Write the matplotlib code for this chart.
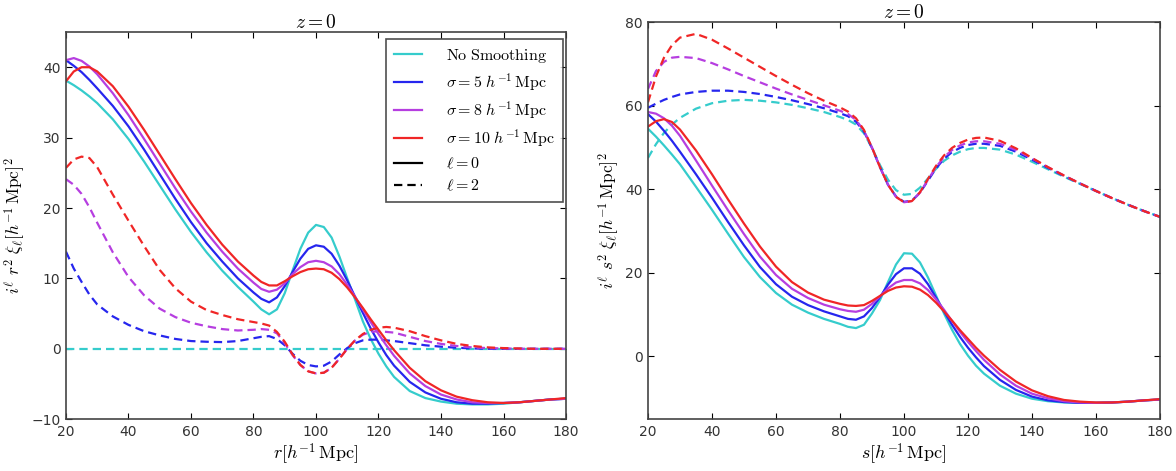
import numpy as np
import matplotlib
matplotlib.use('Agg')
import matplotlib.pyplot as plt
from matplotlib.lines import Line2D

plt.rcParams['mathtext.fontset'] = 'cm'
plt.rcParams['font.family'] = 'DejaVu Sans'
plt.rcParams['lines.scale_dashes'] = False

# separation grid (h^-1 Mpc)
sep = [20, 22.5, 25, 27.5, 30, 35, 40, 45, 50, 55, 60, 65, 70, 75, 80, 82.5, 85, 87.5,
       90, 92.5, 95, 97.5, 100, 102.5, 105, 107.5, 110, 112.5, 115, 117.5, 120, 122.5,
       125, 130, 135, 140, 145, 150, 155, 160, 165, 170, 175, 180]

# real space, monopole (l=0)
r_l0_none = [38.1, 37.45, 36.7, 35.85, 34.9, 32.6, 29.8, 26.6, 23.2, 19.8, 16.6, 13.7, 11.1, 8.8, 6.7, 5.6, 4.9, 5.6,
             7.9, 11.1, 14.2, 16.5, 17.6, 17.3, 15.8, 13.1, 10.0, 7.0, 3.9, 1.4, -0.7, -2.5,
             -4.0, -6.0, -7.0, -7.5, -7.8, -7.9, -7.9, -7.8, -7.6, -7.4, -7.2, -7.1]
r_l0_s5 = [41.0, 40.2, 39.3, 38.2, 37.0, 34.5, 31.6, 28.3, 24.8, 21.3, 18.0, 15.0, 12.4, 10.0, 8.0, 7.1, 6.6, 7.3,
           8.9, 10.9, 12.8, 14.2, 14.7, 14.5, 13.5, 11.8, 9.7, 7.4, 5.1, 2.9, 0.9, -0.9,
           -2.4, -4.7, -6.2, -7.1, -7.6, -7.8, -7.8, -7.7, -7.6, -7.4, -7.2, -7.1]
r_l0_s8 = [41.0, 41.3, 40.9, 40.1, 39.0, 36.3, 33.2, 29.8, 26.3, 22.8, 19.5, 16.5, 13.8, 11.4, 9.4, 8.5, 8.1, 8.4,
           9.3, 10.6, 11.6, 12.3, 12.5, 12.3, 11.7, 10.6, 9.1, 7.4, 5.6, 3.8, 2.1, 0.5,
           -1.0, -3.5, -5.3, -6.5, -7.2, -7.6, -7.7, -7.7, -7.6, -7.4, -7.2, -7.1]
r_l0_s10 = [38.0, 39.4, 40.0, 40.0, 39.4, 37.3, 34.4, 31.1, 27.6, 24.1, 20.7, 17.6, 14.8, 12.4, 10.4, 9.5, 9.0, 9.0,
            9.6, 10.3, 10.9, 11.3, 11.4, 11.3, 10.8, 9.9, 8.7, 7.3, 5.8, 4.2, 2.7, 1.2,
            -0.2, -2.7, -4.6, -5.9, -6.8, -7.3, -7.6, -7.7, -7.6, -7.4, -7.2, -7.0]

# real space, quadrupole (l=2)
r_l2_none = [0.0] * 44
r_l2_s5 = [13.8, 11.4, 9.5, 7.7, 6.3, 4.6, 3.4, 2.5, 1.9, 1.4, 1.1, 1.0, 0.95, 1.1, 1.5, 1.7, 1.8, 1.4,
           0.5, -0.7, -1.7, -2.3, -2.5, -2.4, -1.8, -0.8, 0.1, 0.8, 1.2, 1.3, 1.3, 1.2,
           1.1, 0.8, 0.5, 0.3, 0.15, 0.05, 0.0, 0.0, 0.0, 0.0, 0.0, 0.0]
r_l2_s8 = [24.1, 23.3, 22.0, 20.1, 17.9, 13.7, 10.2, 7.6, 5.7, 4.5, 3.7, 3.2, 2.8, 2.6, 2.7, 2.8, 2.7, 2.2,
           0.8, -0.9, -2.3, -3.2, -3.5, -3.4, -2.7, -1.4, 0.0, 1.2, 2.0, 2.4, 2.5, 2.4,
           2.3, 1.7, 1.1, 0.7, 0.4, 0.2, 0.1, 0.05, 0.0, 0.0, 0.0, 0.0]
r_l2_s10 = [25.7, 26.9, 27.3, 27.1, 25.8, 21.9, 18.2, 14.6, 11.2, 8.6, 6.7, 5.5, 4.8, 4.2, 3.8, 3.6, 3.3, 2.4,
            1.0, -0.8, -2.3, -3.2, -3.5, -3.4, -2.7, -1.4, 0.0, 1.2, 2.1, 2.7, 3.0, 3.1,
            3.0, 2.5, 1.8, 1.2, 0.7, 0.4, 0.2, 0.1, 0.05, 0.0, 0.0, 0.0]

# redshift space, monopole (l=0)
s_l0_none = [54.5, 52.6, 50.5, 48.3, 46.0, 40.6, 35.1, 29.4, 23.8, 19.0, 15.2, 12.4, 10.5, 9.0, 7.8, 7.1, 6.8, 7.6,
             10.3, 13.5, 17.8, 22.0, 24.7, 24.6, 22.5, 18.9, 14.6, 10.3, 6.4, 3.0, 0.2, -2.2,
             -4.1, -7.0, -8.9, -10.1, -10.7, -11.0, -11.1, -11.1, -11.0, -10.8, -10.5, -10.3]
s_l0_s5 = [58.0, 56.2, 54.0, 51.6, 49.0, 43.6, 38.0, 32.2, 26.6, 21.4, 17.3, 14.3, 12.3, 10.8, 9.6, 9.0, 8.8, 9.6,
           11.6, 14.2, 17.2, 19.7, 21.1, 21.1, 19.8, 17.3, 14.1, 10.8, 7.6, 4.7, 2.1, -0.2,
           -2.3, -5.6, -8.0, -9.6, -10.5, -10.9, -11.1, -11.1, -11.0, -10.8, -10.5, -10.3]
s_l0_s8 = [58.5, 58.1, 57.0, 55.2, 52.8, 46.9, 40.9, 35.0, 29.3, 23.9, 19.5, 16.2, 14.0, 12.4, 11.3, 10.9, 10.7, 11.2,
           12.6, 14.4, 16.3, 17.7, 18.3, 18.3, 17.5, 15.9, 13.7, 11.2, 8.5, 5.9, 3.5, 1.3,
           -0.8, -4.3, -7.0, -8.9, -10.0, -10.7, -11.0, -11.1, -11.0, -10.8, -10.5, -10.3]
s_l0_s10 = [55.0, 56.3, 56.8, 56.1, 54.3, 49.3, 43.6, 37.6, 31.8, 26.3, 21.5, 17.8, 15.3, 13.6, 12.6, 12.2, 12.1, 12.3,
            13.3, 14.5, 15.7, 16.5, 16.8, 16.7, 16.0, 14.7, 12.9, 10.8, 8.6, 6.3, 4.2, 2.1,
            0.2, -3.2, -6.0, -8.1, -9.5, -10.4, -10.8, -11.0, -11.0, -10.8, -10.5, -10.2]

# redshift space, quadrupole (l=2)
s_l2_none = [47.5, 50.8, 53.5, 55.5, 57.1, 59.3, 60.6, 61.2, 61.4, 61.2, 60.8, 60.2, 59.4, 58.5, 57.3, 56.6, 55.5, 53.4,
             49.9, 45.8, 42.3, 39.8, 38.7, 38.9, 40.4, 42.6, 44.9, 46.8, 48.1, 49.0, 49.6, 49.9,
             49.9, 49.5, 48.3, 46.6, 44.8, 43.0, 41.3, 39.6, 37.9, 36.3, 34.8, 33.4]
s_l2_s5 = [59.5, 60.5, 61.4, 62.1, 62.7, 63.3, 63.6, 63.6, 63.3, 62.8, 62.1, 61.3, 60.4, 59.4, 58.2, 57.5, 56.2, 53.8,
           49.9, 45.3, 41.1, 38.3, 37.0, 37.3, 39.2, 42.1, 45.0, 47.3, 48.9, 49.9, 50.6, 50.9,
           50.9, 50.4, 49.0, 47.1, 45.1, 43.2, 41.4, 39.6, 37.9, 36.3, 34.8, 33.4]
s_l2_s8 = [64.0, 68.3, 70.5, 71.5, 71.7, 71.4, 70.2, 68.7, 67.1, 65.6, 64.1, 62.7, 61.4, 60.1, 58.8, 58.0, 56.6, 54.0,
           50.0, 45.3, 41.1, 38.2, 36.9, 37.2, 39.2, 42.3, 45.3, 47.7, 49.4, 50.5, 51.2, 51.5,
           51.5, 50.9, 49.4, 47.4, 45.3, 43.3, 41.4, 39.6, 37.9, 36.3, 34.8, 33.4]
s_l2_s10 = [60.8, 67.0, 71.5, 74.5, 76.3, 77.2, 75.8, 73.7, 71.5, 69.3, 67.1, 65.0, 63.0, 61.2, 59.6, 58.6, 57.0, 54.2,
            50.0, 45.3, 41.1, 38.2, 36.9, 37.2, 39.3, 42.5, 45.6, 48.1, 49.9, 51.1, 51.9, 52.3,
            52.4, 51.6, 49.8, 47.5, 45.3, 43.3, 41.4, 39.6, 37.9, 36.3, 34.8, 33.4]

colors = ['#35cccc', '#2626ee', '#b63ee0', '#f02626']
labels = [r'$\mathrm{No\ Smoothing}$',
          r'$\sigma=5\ h^{-1}\,\mathrm{Mpc}$',
          r'$\sigma=8\ h^{-1}\,\mathrm{Mpc}$',
          r'$\sigma=10\ h^{-1}\,\mathrm{Mpc}$']
dash = (6, 3.6)
lw = 1.6

fig = plt.figure(figsize=(11.76, 4.71), dpi=100)
ax1 = fig.add_axes([0.0561, 0.110, 0.4252, 0.822])
ax2 = fig.add_axes([0.5510, 0.110, 0.4354, 0.843])

for ax, mono, quad, var in [
        (ax1, [r_l0_none, r_l0_s5, r_l0_s8, r_l0_s10], [r_l2_none, r_l2_s5, r_l2_s8, r_l2_s10], 'r'),
        (ax2, [s_l0_none, s_l0_s5, s_l0_s8, s_l0_s10], [s_l2_none, s_l2_s5, s_l2_s8, s_l2_s10], 's')]:
    for y0, y2, c in zip(mono, quad, colors):
        ax.plot(sep, y0, color=c, lw=lw)
        ax.plot(sep, y2, color=c, lw=lw, dashes=dash)
    ax.set_xlim(20, 180)
    ax.set_xticks(range(20, 181, 20))
    ax.tick_params(direction='in', top=True, right=True, length=4, labelsize=10,
                   labelcolor='#333333', pad=4)
    for sp in ax.spines.values():
        sp.set_color('#444444')
        sp.set_linewidth(1.2)
    ax.set_title(r'$z=0$', fontsize=14, pad=3)
    ax.set_xlabel(r'$%s[h^{-1}\,\mathrm{Mpc}]$' % var, fontsize=13, labelpad=2)
    ax.set_ylabel(r'$i^\ell\ %s^2\ \xi_\ell[h^{-1}\,\mathrm{Mpc}]^2$' % var, fontsize=12.5, labelpad=3)

ax1.set_ylim(-10, 45)
ax1.set_yticks([-10, 0, 10, 20, 30, 40])
ax2.set_ylim(-15, 80)
ax2.set_yticks([0, 20, 40, 60, 80])

handles = [Line2D([], [], color=c, lw=lw) for c in colors]
handles.append(Line2D([], [], color='k', lw=lw))
handles.append(Line2D([], [], color='k', lw=lw, dashes=dash))
leg = ax1.legend(handles, labels + [r'$\ell=0$', r'$\ell=2$'], loc='upper right',
                 fontsize=11.5, frameon=True, fancybox=False, labelspacing=0.42,
                 handlelength=1.8, borderpad=0.5, handletextpad=1.5, borderaxespad=0,
                 bbox_to_anchor=(0.994, 0.982))
leg.get_frame().set_edgecolor('#222222')
leg.get_frame().set_linewidth(1.2)

fig.savefig('out.png', dpi=100)
